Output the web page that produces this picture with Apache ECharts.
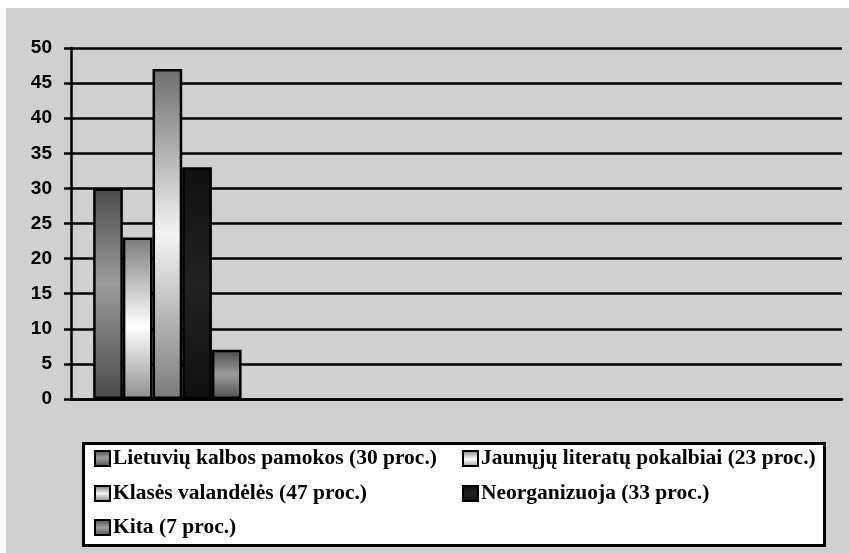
<!DOCTYPE html>
<html>
<head>
<meta charset="utf-8">
<script src="https://cdn.jsdelivr.net/npm/echarts@6/dist/echarts.min.js"></script>
<style>
html,body{margin:0;padding:0;background:#ffffff;}
#c{position:absolute;left:6px;top:8px;width:843px;height:545px;}
</style>
</head>
<body>
<div id="c"></div>
<script>
const categories = ['', '', '', ''];
const seriesNames = [
  'Lietuvių kalbos pamokos (30 proc.)',
  'Jaunųjų literatų pokalbiai (23 proc.)',
  'Klasės valandėlės (47 proc.)',
  'Neorganizuoja (33 proc.)',
  'Kita (7 proc.)'
];
const lietuviu = [30, null, null, null];
const jaunuju = [23, null, null, null];
const klases = [47, null, null, null];
const neorganizuoja = [33, null, null, null];
const kita = [7, null, null, null];
const yTicks = [0, 5, 10, 15, 20, 25, 30, 35, 40, 45, 50];

function grad(stops) {
  return new echarts.graphic.LinearGradient(0, 0, 0, 1,
    stops.map(s => ({offset: s[0], color: s[1]})));
}
const fills = [
  grad([[0,'#4a4a4a'],[0.45,'#9c9c9c'],[1,'#4a4a4a']]),
  grad([[0,'#7a7a7a'],[0.3,'#c4c4c4'],[0.55,'#ffffff'],[0.85,'#b4b4b4'],[1,'#8c8c8c']]),
  grad([[0,'#6e6e6e'],[0.5,'#f4f4f4'],[1,'#7a7a7a']]),
  grad([[0,'#101010'],[0.5,'#222222'],[1,'#101010']]),
  grad([[0,'#4a4a4a'],[0.5,'#9c9c9c'],[1,'#505050']])
];
const dataSets = [lietuviu, jaunuju, klases, neorganizuoja, kita];

const chart = echarts.init(document.getElementById('c'), null, {renderer: 'canvas'});

const legendPos = [
  {left: 88, top: 439.5},
  {left: 456, top: 439.5},
  {left: 88, top: 474.5},
  {left: 456, top: 474.5},
  {left: 88, top: 508.5}
];

const option = {
  backgroundColor: '#d0d0d0',
  animation: false,
  grid: {left: 65, right: 7, top: 40, bottom: 154, containLabel: false},
  xAxis: {
    type: 'category',
    data: categories,
    axisLine: {show: true, lineStyle: {color: '#000', width: 2.5}},
    axisTick: {show: false},
    axisLabel: {show: false},
    splitLine: {show: false}
  },
  yAxis: {
    type: 'value',
    min: 0, max: 50, interval: 5,
    axisLine: {show: true, lineStyle: {color: '#000', width: 2.5}},
    axisTick: {show: true, inside: false, length: 7, lineStyle: {color: '#000', width: 2.5}},
    axisLabel: {
      margin: 19,
      color: '#000',
      fontFamily: 'Liberation Sans, Arial, sans-serif',
      fontWeight: 'bold',
      fontSize: 19,
      formatter: v => yTicks.indexOf(v) >= 0 ? String(v) : ''
    },
    splitLine: {show: true, lineStyle: {color: '#000', width: 2.5}}
  },
  graphic: [{
    type: 'rect',
    z: 1,
    shape: {x: 77.5, y: 435.5, width: 741, height: 102},
    style: {fill: '#ffffff', stroke: '#000', lineWidth: 3}
  }],
  legend: seriesNames.map((n, i) => ({
    data: [n],
    left: legendPos[i].left,
    top: legendPos[i].top,
    padding: 0,
    itemWidth: 15,
    itemHeight: 15,
    icon: 'rect',
    z: 10,
    selectedMode: false,
    textStyle: {
      color: '#000',
      fontFamily: 'Liberation Serif, Times New Roman, serif',
      fontWeight: 'bold',
      fontSize: 21.5,
      lineHeight: 20,
      padding: [0, 0, 0, -2]
    }
  })),
  series: seriesNames.map((n, i) => ({
    name: n,
    type: 'bar',
    data: dataSets[i],
    barGap: '0%',
    barCategoryGap: '23%',
    itemStyle: {color: fills[i], borderColor: '#000', borderWidth: 2.5}
  }))
};
chart.setOption(option);
</script>
</body>
</html>
